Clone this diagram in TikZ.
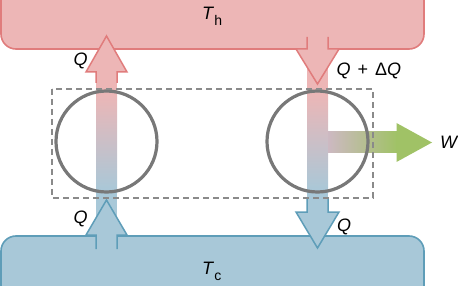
\documentclass[tikz,border=0pt]{standalone}
\usepackage{fontspec}
\setmainfont{Liberation Sans}
\definecolor{pinkF}{HTML}{EDB6B6}
\definecolor{redS}{HTML}{E07C7C}
\definecolor{blueF}{HTML}{A8C8D8}
\definecolor{blueS}{HTML}{5E9DB8}
\definecolor{greenF}{HTML}{A0C266}
\definecolor{mixF}{HTML}{CDB9C2}
\definecolor{ringC}{HTML}{787878}
\definecolor{dashC}{HTML}{8A8A8A}
\newcommand{\subtxt}[1]{\raisebox{-6pt}{\fontsize{14}{16}\selectfont #1}}
\begin{document}
\begin{tikzpicture}[x=1pt,y=-1pt,
  lbl/.style={inner sep=0pt,anchor=base west,font=\fontsize{18}{20}\selectfont},
  hotbox/.style={fill=pinkF,draw=redS,line width=1.6pt,rounded corners=15pt},
  coldbox/.style={fill=blueF,draw=blueS,line width=1.6pt,rounded corners=15pt},
  ring/.style={draw=ringC,line width=3.2pt},
  arrline/.style={line width=1.5pt,line join=miter}]
\useasboundingbox (0,0) rectangle (458,286);
% reservoirs
\draw[hotbox] (1,-30) rectangle (424,49);
\draw[coldbox] (1,236) rectangle (424,320);
% left column
\fill[pinkF] (96,72) rectangle (117,92);
\shade[top color=pinkF,bottom color=blueF] (96,92) rectangle (117,192);
\fill[blueF] (96,192) rectangle (117,236);
% right column
\fill[pinkF] (307,49) rectangle (328,92);
\shade[top color=pinkF,bottom color=blueF] (307,92) rectangle (328,192);
\fill[blueF] (307,192) rectangle (328,212);
% work arrow
\shade[left color=mixF,right color=greenF,shading=axis] (328,132) rectangle (397,153);
\fill[greenF] (396.5,123) -- (432,142.5) -- (396.5,162) -- cycle;
% arrows (hot side)
\fill[pinkF] (96,83) -- (96,72) -- (86,72) -- (106.5,36) -- (127,72) -- (117,72) -- (117,83) -- cycle;
\draw[arrline,redS] (96,83) -- (96,72) -- (86,72) -- (106.5,36) -- (127,72) -- (117,72) -- (117,83);
\fill[pinkF] (307,37) -- (307,49) -- (296,49) -- (317.5,84) -- (339,49) -- (328,49) -- (328,37) -- cycle;
\draw[arrline,redS] (307,37) -- (307,49) -- (296,49) -- (317.5,84) -- (339,49) -- (328,49) -- (328,37);
% arrows (cold side)
\fill[blueF] (96,250) -- (96,235) -- (86,235) -- (106.5,200) -- (127,235) -- (117,235) -- (117,250) -- cycle;
\draw[arrline,blueS] (96,249) -- (96,235) -- (86,235) -- (106.5,200) -- (127,235) -- (117,235) -- (117,249);
\fill[blueF] (307,199) -- (307,212) -- (296,212) -- (317.5,248) -- (339,212) -- (328,212) -- (328,199) -- cycle;
\draw[arrline,blueS] (307,199) -- (307,212) -- (296,212) -- (317.5,248) -- (339,212) -- (328,212) -- (328,199);
% circles and engine boundary
\draw[ring] (106.5,141.5) circle (50.5);
\draw[ring] (317.5,141.5) circle (50.5);
\draw[dashC,line width=1.5pt,dash pattern=on 6pt off 4pt] (52,89) rectangle (373,198);
% labels
\node[lbl] (th) at (202,19.5) {\textit{T}\subtxt{h}};
\node[lbl] (tc) at (202,274) {\textit{T}\subtxt{c}};
\node[lbl] (q1) at (73.5,65.5) {\textit{Q}};
\node[lbl] (q2) at (336.5,75.5) {\textit{Q}\hspace{7pt}+\hspace{7pt}Δ\textit{Q}};
\node[lbl] (q3) at (73.5,223) {\textit{Q}};
\node[lbl] (q4) at (337,231) {\textit{Q}};
\node[lbl] (w) at (440,149) {\textit{W}};
\end{tikzpicture}
\end{document}
